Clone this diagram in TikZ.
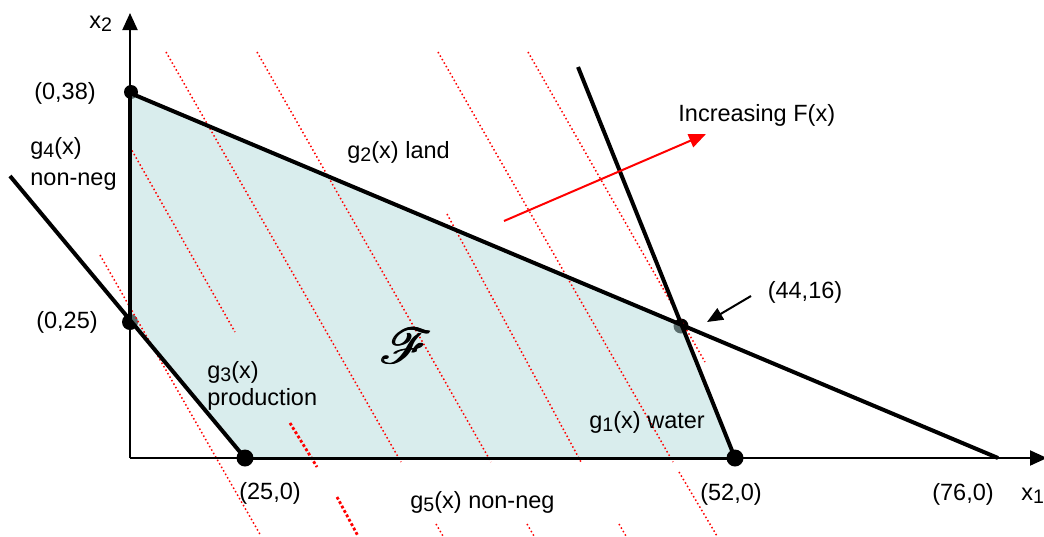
\documentclass[tikz,border=0pt]{standalone}
\usepackage{fontspec}
\setmainfont{Liberation Sans}
\usepackage{mathrsfs}
\usetikzlibrary{arrows.meta}
\definecolor{feas}{RGB}{180,219,219}
\newcommand{\mysub}[1]{\raisebox{-1.6pt}{\fontsize{9.8}{10}\selectfont #1}}
\newcommand{\heavyF}{\rlap{$\mathscr{F}$}\kern0.5pt\rlap{\raisebox{0.35pt}{$\mathscr{F}$}}\kern0.5pt$\mathscr{F}$}
\tikzset{
  lbl/.style={inner sep=0pt, font=\fontsize{11.75}{14}\selectfont},
  constraint/.style={line width=2pt, black},
  axisline/.style={line width=1pt, black, -{Triangle[length=8.5pt,width=7.5pt]}},
  iso/.style={red, line width=0.75pt, dash pattern=on 0.75pt off 1.25pt},
  isothick/.style={red, line width=1.4pt, dash pattern=on 1.4pt off 1.1pt},
  vertex/.style={circle, fill=black, inner sep=0pt, minimum size=#1},
}
\begin{document}
\begin{tikzpicture}[x=0.5pt,y=-0.5pt]
\useasboundingbox (0,0) rectangle (1044,536);
% key points
\coordinate (O) at (130,458);
\coordinate (A) at (130,93);
\coordinate (E) at (130,322);
\coordinate (B) at (681,326);
\coordinate (C) at (735,458);
\coordinate (D) at (245,458);
\coordinate (g2end) at (998,458);
\coordinate (g1top) at (578,67);
\coordinate (g3top) at (10,176);
\coordinate (ytip) at (130,13);
\coordinate (xtip) at (1047,458);
% dots under the fill
\node[vertex=7pt] (pA) at (131,92) {};
\node[vertex=8pt] (pE) at (E) {};
\node[vertex=7.5pt] (pB) at (B) {};
% feasible region
\fill[feas, opacity=0.5] (A) -- (B) -- (C) -- (D) -- (E) -- cycle;
% iso-objective lines
\draw[iso] (100,255) -- (261,536);
\draw[iso] (130,147) -- (235,332);
\draw[isothick] (290,423) -- (317,467);
\draw[isothick] (337,497) -- (358,536);
\draw[iso] (166,52) -- (401,462);
\draw[iso] (436,524) -- (443,536);
\draw[iso] (257,52) -- (491,462);
\draw[iso] (527,524) -- (534,536);
\draw[iso] (447,214) -- (581,462);
\draw[iso] (619,524) -- (626,536);
\draw[iso] (438,52) -- (673,462);
\draw[iso] (679,472) -- (717,536);
\draw[iso] (528,52) -- (705,362);
% axes
\draw[axisline] (O) -- (ytip);
\draw[axisline] (O) -- (xtip);
% constraint lines
\draw[constraint] (A) -- (g2end);
\draw[constraint] (g1top) -- (C);
\draw[constraint] (g3top) -- (D);
\draw[constraint] (A) -- (E);
\draw[line width=1.5pt] (D) -- (C);
% vertices on top
\node[vertex=8.5pt] (pD) at (D) {};
\node[vertex=8.5pt] (pC) at (C) {};
% arrows
\coordinate (rs) at (504,221);
\coordinate (re) at (706,134);
\draw[red, line width=1pt, -{Triangle[length=8.5pt,width=7pt]}] (rs) -- (re);
\coordinate (bs) at (751,296);
\coordinate (be) at (707,322);
\draw[black, line width=1pt, -{Triangle[length=8pt,width=6.5pt]}] (bs) -- (be);
% labels
\node[lbl, anchor=base west] (lx2) at (89,28) {x\mysub{2}};
\node[lbl, anchor=base] (l038) at (65,99) {(0,38)};
\node[lbl, anchor=base west] (lg4) at (30,154) {g\mysub{4}(x)};
\node[lbl, anchor=base west] (lg4b) at (30,185) {non-neg};
\node[lbl, anchor=base] (l025) at (67,328) {(0,25)};
\node[lbl, anchor=base west] (lg3) at (207,378) {g\mysub{3}(x)};
\node[lbl, anchor=base west] (lg3b) at (207,405) {production};
\node[lbl, anchor=base] (l250) at (270,499) {(25,0)};
\node[lbl, anchor=base west] (lg5) at (410,508) {g\mysub{5}(x) non-neg};
\node[lbl, anchor=base west] (lg1) at (589,428) {g\mysub{1}(x) water};
\node[lbl, anchor=base] (l520) at (731,500) {(52,0)};
\node[lbl, anchor=base] (l760) at (963,500) {(76,0)};
\node[lbl, anchor=base west] (lx1) at (1021,500) {x\mysub{1}};
\node[lbl, anchor=base] (l4416) at (805,298) {(44,16)};
\node[lbl, anchor=base west] (linc) at (678,121) {Increasing F(x)};
\node[lbl, anchor=base west] (lg2) at (347,158) {g\mysub{2}(x) land};
\node[inner sep=0pt] (lF) at (406,346) {\fontsize{26}{30}\selectfont\heavyF};
\end{tikzpicture}
\end{document}
